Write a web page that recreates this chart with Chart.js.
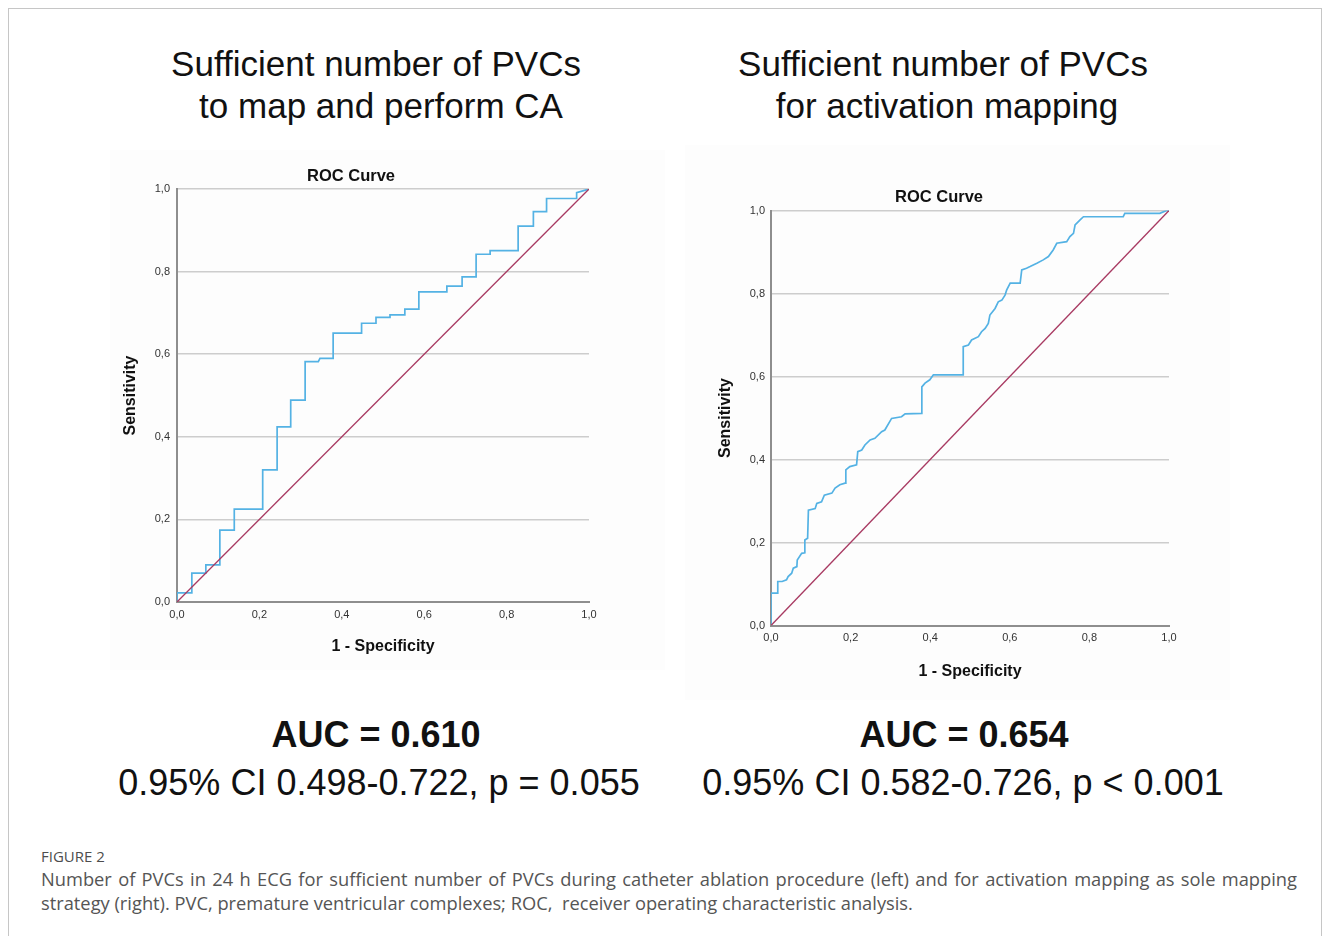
<!DOCTYPE html>
<html>
<head>
<meta charset="utf-8">
<title>Figure 2 - ROC curves</title>
<script src="https://cdn.jsdelivr.net/npm/chart.js@4.4.1/dist/chart.umd.min.js"></script>
<style>
    body { margin: 0; width: 1329px; height: 936px; overflow: hidden; position: relative; background: #fff; font-family: "Liberation Sans", Arial, sans-serif; }
    .frame { position: absolute; left: 8px; top: 8px; width: 1312px; height: 960px; border: 1px solid #c6c6c6; }
    .txt { position: absolute; white-space: nowrap; transform: translate(-50%, -50%); color: #111; }
    .head { font-size: 35px; }
    .auc { font-size: 36px; font-weight: bold; }
    .ci { font-size: 36px; }
    .roc { font-size: 16.5px; font-weight: bold; }
    canvas { position: absolute; background: #fdfdfd; }
    .figlabel { position: absolute; left: 41px; top: 846px; font-family: "Open Sans", sans-serif; font-size: 15px; color: #4d4d4d; }
    .caption { position: absolute; left: 41px; top: 867px; width: 1256px; font-family: "Open Sans", sans-serif; font-size: 18.3px; line-height: 24px; color: #555; }
    .caption .l1 { text-align: justify; text-align-last: justify; }
</style>
</head>
<body>
<div class="frame"></div>

<div class="txt head" style="left:376px; top:64px;">Sufficient number of PVCs</div>
<div class="txt head" style="left:381px; top:106px;">to map and perform CA</div>
<div class="txt head" style="left:943px; top:64px;">Sufficient number of PVCs</div>
<div class="txt head" style="left:947px; top:106px;">for activation mapping</div>

<canvas id="rocLeft" width="555" height="520" style="left:110px; top:150px;"></canvas>
<canvas id="rocRight" width="545" height="555" style="left:685px; top:145px;"></canvas>

<div class="txt roc" style="left:351px; top:175px;">ROC Curve</div>
<div class="txt roc" style="left:939px; top:196px;">ROC Curve</div>

<div class="txt auc" style="left:376px; top:735px;">AUC = 0.610</div>
<div class="txt ci" style="left:379px; top:783px;">0.95% CI 0.498-0.722, p = 0.055</div>
<div class="txt auc" style="left:964px; top:735px;">AUC = 0.654</div>
<div class="txt ci" style="left:963px; top:783px;">0.95% CI 0.582-0.726, p &lt; 0.001</div>

<div class="figlabel">FIGURE 2</div>
<div class="caption">
    <div class="l1">Number of PVCs in 24 h ECG for sufficient number of PVCs during catheter ablation procedure (left) and for activation mapping as sole mapping</div>
    <div>strategy (right). PVC, premature ventricular complexes; ROC,&nbsp; receiver operating characteristic analysis.</div>
</div>

<script>
// --- Data ---
const tickValues = [0, 0.2, 0.4, 0.6, 0.8, 1.0];
const tickLabels = ['0,0', '0,2', '0,4', '0,6', '0,8', '1,0'];

// left: sufficient number of PVCs to map and perform CA
const leftFpr = [0, 0, 0.036, 0.036, 0.070, 0.070, 0.104, 0.104, 0.139, 0.139,
    0.208, 0.208, 0.243, 0.243, 0.276, 0.276, 0.311, 0.311, 0.343, 0.347,
    0.379, 0.379, 0.448, 0.448, 0.483, 0.483, 0.517, 0.517, 0.553, 0.553,
    0.587, 0.587, 0.655, 0.655, 0.692, 0.692, 0.726, 0.726, 0.760, 0.760,
    0.828, 0.828, 0.865, 0.865, 0.897, 0.897, 0.970, 0.970, 1];
const leftTpr = [0, 0.022, 0.022, 0.070, 0.070, 0.090, 0.090, 0.174, 0.174, 0.225,
    0.225, 0.320, 0.320, 0.424, 0.424, 0.489, 0.489, 0.582, 0.582, 0.590,
    0.590, 0.651, 0.651, 0.675, 0.675, 0.689, 0.689, 0.695, 0.695, 0.709,
    0.709, 0.751, 0.751, 0.765, 0.765, 0.787, 0.787, 0.842, 0.842, 0.851,
    0.851, 0.910, 0.910, 0.945, 0.945, 0.977, 0.977, 0.991, 1];

// right: sufficient number of PVCs for activation mapping
const rightFpr = [0, 0, 0.017, 0.017, 0.028, 0.039, 0.043, 0.052, 0.056, 0.065,
    0.066, 0.077, 0.085, 0.085, 0.092, 0.094, 0.111, 0.115, 0.127, 0.134,
    0.153, 0.161, 0.173, 0.186, 0.188, 0.198, 0.215, 0.218, 0.228, 0.236,
    0.249, 0.261, 0.278, 0.286, 0.303, 0.328, 0.337, 0.379, 0.379, 0.387,
    0.399, 0.408, 0.483, 0.483, 0.496, 0.504, 0.521, 0.529, 0.538, 0.546,
    0.550, 0.563, 0.571, 0.580, 0.588, 0.592, 0.601, 0.626, 0.630, 0.642,
    0.651, 0.668, 0.684, 0.697, 0.709, 0.718, 0.743, 0.751, 0.760, 0.764,
    0.776, 0.785, 0.885, 0.889, 0.977, 0.994, 1];
const rightTpr = [0, 0.078, 0.078, 0.106, 0.106, 0.110, 0.118, 0.126, 0.138, 0.142,
    0.158, 0.174, 0.175, 0.206, 0.210, 0.278, 0.282, 0.294, 0.298, 0.314,
    0.319, 0.331, 0.339, 0.343, 0.375, 0.383, 0.387, 0.419, 0.423, 0.435,
    0.447, 0.451, 0.467, 0.471, 0.499, 0.503, 0.510, 0.511, 0.575, 0.584,
    0.592, 0.604, 0.604, 0.672, 0.676, 0.688, 0.696, 0.708, 0.716, 0.728,
    0.748, 0.764, 0.780, 0.784, 0.796, 0.808, 0.825, 0.825, 0.857, 0.861,
    0.865, 0.873, 0.881, 0.889, 0.905, 0.921, 0.925, 0.937, 0.945, 0.965,
    0.977, 0.985, 0.985, 0.993, 0.993, 1.0, 1];

// chance line
const refX = [0, 1];
const refY = [0, 1];

const curveColor = '#54b2e4';
const refColor = '#a83a62';

function toPoints(xs, ys) {
    return xs.map((x, i) => ({ x: x, y: ys[i] }));
}

function tickText(value) {
    const i = tickValues.findIndex(v => Math.abs(v - value) < 1e-6);
    return i >= 0 ? tickLabels[i] : '';
}

// --- Build one SPSS-style ROC plot ---
function makeRocChart(canvasId, fpr, tpr, box) {
    const ctx = document.getElementById(canvasId).getContext('2d');
    return new Chart(ctx, {
        type: 'line',
        data: {
            datasets: [
                {
                    data: toPoints(refX, refY),
                    borderColor: refColor,
                    borderWidth: 1.3,
                    pointRadius: 0,
                    tension: 0
                },
                {
                    data: toPoints(fpr, tpr),
                    borderColor: curveColor,
                    borderWidth: 1.7,
                    pointRadius: 0,
                    tension: 0
                }
            ]
        },
        options: {
            responsive: false,
            animation: false,
            devicePixelRatio: 1,
            layout: { padding: { top: box.top, right: box.right, left: 0, bottom: 0 } },
            plugins: { legend: { display: false }, tooltip: { enabled: false } },
            scales: {
                x: {
                    type: 'linear',
                    min: 0, max: 1,
                    grid: { display: false, drawTicks: false },
                    border: { color: '#8e8e8e', width: 2 },
                    ticks: { stepSize: 0.2, padding: 6, color: '#333', font: { size: 11, family: 'Liberation Sans' }, callback: tickText, maxRotation: 0 },
                    title: { display: true, text: '1 - Specificity', color: '#111', font: { size: 16, weight: 'bold', family: 'Liberation Sans' }, padding: { top: 0, bottom: box.xTitlePad } },
                    afterFit: scale => { scale.height = box.xHeight; }
                },
                y: {
                    type: 'linear',
                    min: 0, max: 1,
                    grid: { color: '#cdcdcd', lineWidth: 1.5, drawTicks: false },
                    border: { color: '#8e8e8e', width: 2 },
                    ticks: { stepSize: 0.2, padding: box.yTickPad, color: '#333', font: { size: 11, family: 'Liberation Sans' }, callback: tickText },
                    title: { display: true, text: 'Sensitivity', color: '#111', font: { size: 16, weight: 'bold', family: 'Liberation Sans' }, padding: { top: box.yTitlePad, bottom: 0 } },
                    afterFit: scale => { scale.width = box.yWidth; }
                }
            }
        }
    });
}

makeRocChart('rocLeft', leftFpr, leftTpr, { top: 39, right: 76, xHeight: 68, yWidth: 67, xTitlePad: 14, yTitlePad: 11, yTickPad: 7 });
makeRocChart('rocRight', rightFpr, rightTpr, { top: 65.5, right: 61, xHeight: 74.5, yWidth: 86, xTitlePad: 19, yTitlePad: 31, yTickPad: 6 });
</script>
</body>
</html>
